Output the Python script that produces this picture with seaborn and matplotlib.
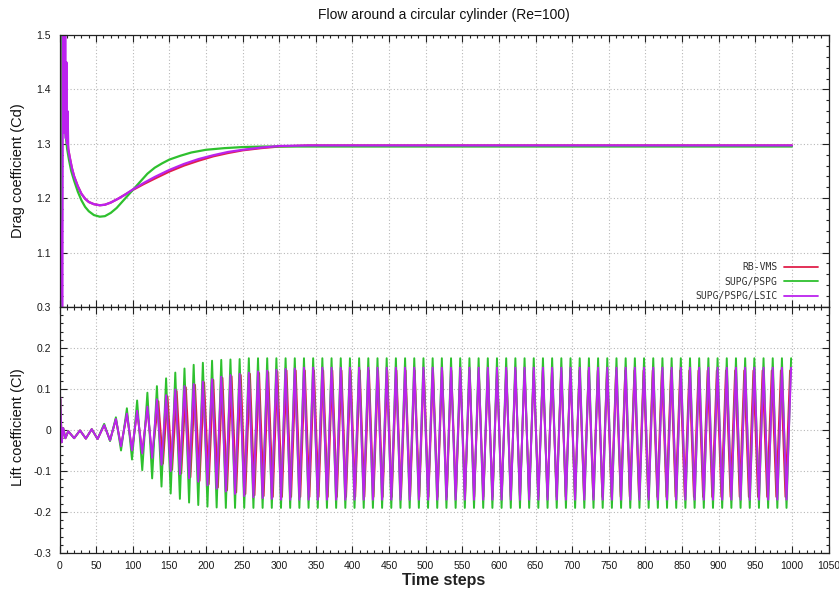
import numpy as np
import pandas as pd
import matplotlib
matplotlib.use("Agg")
import matplotlib.pyplot as plt
from matplotlib.ticker import MultipleLocator
import seaborn as sns

# ---------------------------------------------------------------- data
series_names = ["RB-VMS", "SUPG/PSPG", "SUPG/PSPG/LSIC"]
series_colors = ["#e0204a", "#2ec02e", "#bb22ee"]

# Drag coefficient history: (time step, Cd)
drag_rbvms_t = [0, 2.2, 2.5, 5, 8, 12, 14, 17, 20, 25, 30, 35, 40, 47, 55, 62, 70, 80,
                90, 100, 115, 130, 150, 170, 190, 210, 230, 250, 275, 300, 340, 1000]
drag_rbvms_cd = [0.5, 0.8, 1.8, 1.42, 1.34, 1.29, 1.275, 1.255, 1.24, 1.222, 1.208, 1.199,
                 1.193, 1.189, 1.187, 1.188, 1.192, 1.199, 1.207, 1.215, 1.226, 1.236,
                 1.249, 1.26, 1.269, 1.277, 1.283, 1.288, 1.292, 1.295, 1.297, 1.297]

drag_supg_t = [0, 3, 4, 6, 8, 10.5, 13, 16, 20, 25, 30, 35, 40, 47, 55, 62, 70, 78, 86,
               94, 100, 110, 120, 130, 140, 150, 165, 180, 200, 225, 250, 280, 1000]
drag_supg_cd = [1.2, 1.0, 1.55, 1.35, 1.32, 1.29, 1.27, 1.25, 1.232, 1.212, 1.196, 1.184,
                1.176, 1.169, 1.166, 1.167, 1.173, 1.182, 1.194, 1.206, 1.215, 1.23,
                1.245, 1.256, 1.264, 1.271, 1.278, 1.284, 1.289, 1.292, 1.294, 1.295, 1.295]

drag_lsic_t = [0, 4, 4.6, 5.4, 6.2, 7.0, 7.8, 8.6, 9.4, 10.2, 11.0, 12, 14, 17, 20, 25, 30,
               35, 40, 47, 55, 62, 70, 80, 90, 100, 115, 130, 150, 170, 190, 210, 230,
               250, 275, 300, 340, 1000]
drag_lsic_cd = [1.2, 1.0, 1.6, 1.33, 1.55, 1.32, 1.5, 1.31, 1.45, 1.3, 1.36, 1.29, 1.275,
                1.255, 1.24, 1.222, 1.208, 1.199, 1.193, 1.189, 1.187, 1.188, 1.192, 1.199,
                1.207, 1.216, 1.228, 1.239, 1.252, 1.263, 1.272, 1.279, 1.285, 1.289,
                1.293, 1.296, 1.297, 1.297]

# Lift coefficient, start-up transient: extrema (time step, Cl)
lift_head_t = [0, 1, 3, 5, 8, 12, 20, 28, 36, 44, 52, 61, 69, 77, 84, 92, 99, 106, 113,
               120, 126.5]
lift_head_rbvms = [0.0, 0.075, -0.03, 0.005, -0.02, -0.003, -0.02, -0.001, -0.021, 0.002,
                   -0.022, 0.012, -0.025, 0.026, -0.039, 0.039, -0.049, 0.045, -0.055,
                   0.055, -0.066]
lift_head_supg = [0.0, 0.075, -0.03, 0.005, -0.02, -0.003, -0.02, -0.001, -0.021, 0.002,
                  -0.022, 0.015, -0.027, 0.031, -0.05, 0.053, -0.072, 0.072, -0.098,
                  0.091, -0.118]
lift_head_lsic = [0.0, 0.08, -0.03, 0.005, -0.02, -0.003, -0.02, -0.001, -0.021, 0.002,
                  -0.022, 0.012, -0.025, 0.027, -0.04, 0.04, -0.05, 0.047, -0.057,
                  0.057, -0.068]

# Lift coefficient, periodic shedding: first crest step, shedding period (steps),
# successive crest and trough values
lift_rbvms_first, lift_rbvms_period = 135.0, 12.5
lift_rbvms_crests = [0.07, 0.082, 0.095, 0.104, 0.11, 0.116, 0.122, 0.127, 0.131, 0.134,
                     0.137, 0.139, 0.141, 0.143] + [0.145] * 56
lift_rbvms_troughs = [-0.082, -0.097, -0.106, -0.115, -0.124, -0.132, -0.14, -0.147,
                      -0.152, -0.156, -0.159, -0.161] + [-0.163] * 57

lift_supg_first, lift_supg_period = 133.0, 12.55
lift_supg_crests = [0.107, 0.126, 0.140, 0.150, 0.159, 0.164, 0.169, 0.171, 0.172,
                    0.173] + [0.175] * 60
lift_supg_troughs = [-0.138, -0.155, -0.168, -0.177, -0.183, -0.187, -0.189] + [-0.19] * 62

lift_lsic_first, lift_lsic_period = 133.0, 12.55
lift_lsic_crests = [0.075, 0.085, 0.099, 0.107, 0.112, 0.118, 0.124, 0.13, 0.134, 0.137,
                    0.14, 0.143, 0.145, 0.147, 0.149, 0.15] + [0.152] * 54
lift_lsic_troughs = [-0.085, -0.1, -0.108, -0.118, -0.126, -0.135, -0.143, -0.15, -0.156,
                     -0.161, -0.164, -0.166, -0.168] + [-0.17] * 56

x_ticks = list(range(0, 1051, 50))
drag_ticks = [1.0, 1.1, 1.2, 1.3, 1.4, 1.5]
drag_tick_labels = ["", "1.1", "1.2", "1.3", "1.4", "1.5"]
lift_ticks = [-0.3, -0.2, -0.1, 0.0, 0.1, 0.2, 0.3]
lift_tick_labels = ["-0.3", "-0.2", "-0.1", "0", "0.1", "0.2", "0.3"]


def lift_history(head_t, head_v, first, period, crests, troughs):
    """Join the start-up extrema with the alternating crest/trough sequence."""
    n = len(crests)
    vals = np.empty(2 * n - 1)
    vals[0::2] = crests
    vals[1::2] = troughs
    steps = first + 0.5 * period * np.arange(2 * n - 1)
    return np.concatenate([head_t, steps]), np.concatenate([head_v, vals])


drag_df = pd.concat([
    pd.DataFrame({"step": drag_rbvms_t, "value": drag_rbvms_cd, "scheme": series_names[0]}),
    pd.DataFrame({"step": drag_supg_t, "value": drag_supg_cd, "scheme": series_names[1]}),
    pd.DataFrame({"step": drag_lsic_t, "value": drag_lsic_cd, "scheme": series_names[2]}),
])

lift_parts = []
for name, head, first, period, cr, tr in [
    (series_names[0], lift_head_rbvms, lift_rbvms_first, lift_rbvms_period,
     lift_rbvms_crests, lift_rbvms_troughs),
    (series_names[1], lift_head_supg, lift_supg_first, lift_supg_period,
     lift_supg_crests, lift_supg_troughs),
    (series_names[2], lift_head_lsic, lift_lsic_first, lift_lsic_period,
     lift_lsic_crests, lift_lsic_troughs),
]:
    t, v = lift_history(lift_head_t, head, first, period, cr, tr)
    lift_parts.append(pd.DataFrame({"step": t, "value": v, "scheme": name}))
lift_df = pd.concat(lift_parts)

# ---------------------------------------------------------------- style
sns.set_theme(style="ticks")
plt.rcParams["font.family"] = ["Liberation Sans", "DejaVu Sans"]
plt.rcParams["axes.linewidth"] = 0.9

W, H = 839, 592
fig = plt.figure(figsize=(W / 100, H / 100), dpi=100)
left, right = 59.5 / W, 828.5 / W
ax_d = fig.add_axes([left, 1 - 307 / H, right - left, (307 - 35) / H])
ax_l = fig.add_axes([left, 1 - 553 / H, right - left, (553 - 307) / H])

for ax, df, lw in [(ax_d, drag_df, 1.6), (ax_l, lift_df, 1.4)]:
    for name, color in zip(series_names, series_colors):
        sub = df[df["scheme"] == name]
        sns.lineplot(data=sub, x="step", y="value", ax=ax, color=color, lw=lw,
                     estimator=None, errorbar=None, sort=False, label=name, legend=False)

grid_kw = dict(color="#b8b8b8", linestyle=(0, (1, 2)), linewidth=0.8)
for ax in (ax_d, ax_l):
    ax.set_xlim(0, 1050)
    ax.set_xticks(x_ticks)
    ax.xaxis.set_minor_locator(MultipleLocator(10))
    ax.yaxis.set_minor_locator(MultipleLocator(0.02))
    ax.grid(True, which="major", **grid_kw)
    ax.set_axisbelow(True)
    ax.tick_params(which="both", direction="in", top=True, right=True,
                   color="#222222", width=0.8)
    ax.tick_params(which="major", length=5, labelsize=7.5, labelcolor="#1a1a1a", pad=6)
    ax.tick_params(which="minor", length=2.5)
    ax.set_xlabel("")
    ax.set_ylabel("")
    for sp in ax.spines.values():
        sp.set_color("#222222")

ax_d.set_ylim(1.0, 1.5)
ax_d.set_yticks(drag_ticks)
ax_d.set_yticklabels(drag_tick_labels)
ax_d.tick_params(labelbottom=False)

ax_l.set_ylim(-0.3, 0.3)
ax_l.set_yticks(lift_ticks)
ax_l.set_yticklabels(lift_tick_labels)
ax_l.set_xticklabels([str(x) for x in x_ticks])

handles = ax_d.get_lines()[:3]
leg = ax_d.legend(handles, series_names, loc="lower right",
                  bbox_to_anchor=(1 - 11 / 769, 0.022), frameon=False,
                  markerfirst=False, handlelength=3.4, handletextpad=0.7,
                  labelspacing=0.45, borderpad=0, borderaxespad=0,
                  prop={"family": "DejaVu Sans Mono", "size": 7})
for col in leg._legend_handle_box.get_children():
    col.align = "right"
for t in leg.get_texts():
    t.set_color("#333333")
for h in leg.legend_handles:
    h.set_linewidth(1.3)

cx = (left + right) / 2
fig.text(cx, 1 - 15 / H, "Flow around a circular cylinder (Re=100)",
         ha="center", va="center", fontsize=10, color="#111111")
fig.text(cx, 1 - 581 / H, "Time steps", ha="center", va="center",
         fontsize=11.5, fontweight="bold", color="#222222")
fig.text(18 / W, 1 - 171 / H, "Drag coefficient (Cd)", rotation=90,
         ha="center", va="center", fontsize=10.5, color="#111111")
fig.text(18 / W, 1 - 427 / H, "Lift coefficient (Cl)", rotation=90,
         ha="center", va="center", fontsize=10.5, color="#111111")

fig.savefig("out.png", dpi=100)
